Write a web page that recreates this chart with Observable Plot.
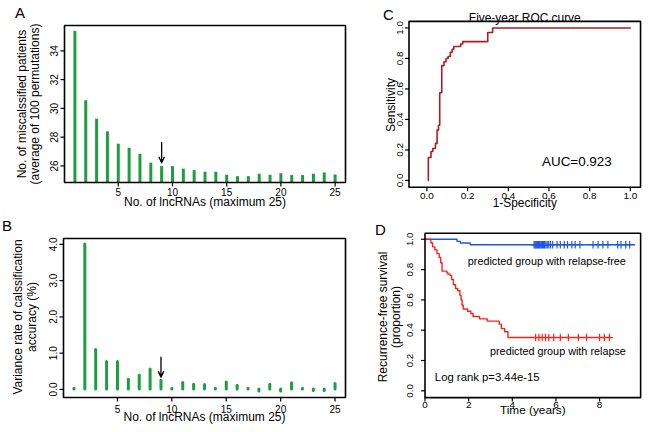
<!DOCTYPE html>
<html><head><meta charset="utf-8">
<script src="https://cdn.jsdelivr.net/npm/d3@7"></script>
<script src="https://cdn.jsdelivr.net/npm/@observablehq/plot@0.6"></script>
<style>
html,body{margin:0;background:#fff;overflow:hidden;font-family:"Liberation Sans",Arial,sans-serif;color:#000}
#fig{position:relative;width:648px;height:432px;background:#fff}
.box{position:absolute;}
.lab{position:absolute;font-size:15px;line-height:1;}
.ttl{position:absolute;font-size:12px;white-space:pre;text-align:center;transform:translate(-50%,-50%) rotate(-90deg);}
</style></head><body><div id="fig"></div>
<script>
// ---------- data ----------
const nLnc = [1,2,3,4,5,6,7,8,9,10,11,12,13,14,15,16,17,18,19,20,21,22,23,24,25];
const misclassified = [35.36,30.53,29.25,28.37,27.51,27.23,26.81,26.19,25.95,25.95,25.77,25.67,25.56,25.56,25.35,25.25,25.25,25.42,25.35,25.46,25.33,25.33,25.42,25.51,25.37];
const varianceRate = [0.02,4.0,1.09,0.76,0.76,0.27,0.38,0.55,0.24,0.02,0.18,0.13,0.12,0.02,0.19,0.10,0.02,-0.06,0.13,-0.06,0.17,0.02,-0.04,-0.04,0.15];
const nTicks = [5,10,15,20,25];
const aTicks = [26,28,30,32,34];
const bTicks = [0,1,2,3,4];
const arrowN = 9;
const arrowA = [27.62, 26.22];
const arrowB = [0.89, 0.34];

const rocFpr = [0.007,0.007,0.020,0.029,0.042,0.050,0.057,0.063,0.073,0.084,0.094,0.104,0.115,0.124,0.132,0.166,0.176,0.299,0.323,1.0];
const rocTpr = [0,0.15,0.19,0.21,0.243,0.33,0.362,0.575,0.753,0.778,0.80,0.813,0.84,0.86,0.878,0.895,0.91,0.97,1.0,1.0];
const unitTicks = [0,0.2,0.4,0.6,0.8,1.0];

const redTime = [0,0.27,0.35,0.45,0.55,0.65,0.72,0.78,1.0,1.05,1.15,1.22,1.3,1.4,1.5,1.6,1.65,1.7,1.75,1.95,2.1,2.2,2.5,2.85,3.4,3.5,3.65,3.8,8.5];
const redSurv = [1,0.975,0.95,0.93,0.905,0.88,0.845,0.79,0.78,0.77,0.76,0.735,0.70,0.675,0.66,0.63,0.60,0.565,0.54,0.525,0.51,0.49,0.475,0.46,0.44,0.41,0.39,0.352,0.352];
const blueTime = [0,1.47,1.62,2.07,9.6];
const blueSurv = [1,0.986,0.975,0.964,0.964];
const redCensor = [5.07,5.22,5.37,5.52,5.67,5.9,6.2,6.57,7.03,7.4,8.0,8.22,8.45];
const blueCensor = [5.0,5.04,5.08,5.12,5.16,5.2,5.24,5.28,5.33,5.38,5.43,5.48,5.54,5.6,5.67,5.75,5.85,6.05,6.2,6.38,6.53,6.73,6.88,7.1,7.7,7.93,8.15,8.38,8.83,8.98,9.2,9.38];
const timeTicks = [0,2,4,6,8];

// ---------- helpers ----------
const GREEN = "#1e9e40", ROC = "#a8201f", RED = "#f0261c", BLUE = "#2158d8";
const P = 7; // inner padding between Plot's frame and the drawn box
const rExt = a => { const lo = d3.min(a), hi = d3.max(a), e = (hi - lo) * 0.04; return [lo - e, hi + e]; };
const padDom = (d, px) => { const k = P * (d[1] - d[0]) / px; return [d[0] - k, d[1] + k]; };
const style = "font-family:'Liberation Sans',Arial,sans-serif;font-size:10px;background:transparent;color:black;";
const fig = document.getElementById("fig");
function place(el, left, top) {
  const w = document.createElement("div"); w.className = "box";
  w.style.left = left + "px"; w.style.top = top + "px"; w.appendChild(el); fig.appendChild(w); return w;
}
function title(text, cx, cy, lh) {
  const d = document.createElement("div"); d.className = "ttl"; d.textContent = text;
  d.style.lineHeight = lh + "px"; d.style.left = cx + "px"; d.style.top = cy + "px"; fig.appendChild(d);
}
function survAt(times, surv, t) { const i = d3.bisectRight(times, t) - 1; return surv[Math.max(0, i)]; }
// box through the visible-domain corners, plus outward tick marks (len px)
function boxLines(xd, yd, xt, yt, fw, fh, len) {
  const [x0, x1] = xd, [y0, y1] = yd;
  const corners = [[x0, y0], [x1, y0], [x1, y1], [x0, y1], [x0, y0]];
  const ky = len * (y1 - y0) / fh, kx = len * (x1 - x0) / fw;
  return [
    Plot.line(corners, {stroke: "black", strokeWidth: 1.6, strokeLinejoin: "miter"}),
    Plot.link(xt, {x1: d => d, x2: d => d, y1: y0, y2: y0 - ky, stroke: "black", strokeWidth: 1.2}),
    Plot.link(yt, {y1: d => d, y2: d => d, x1: x0, x2: x0 - kx, stroke: "black", strokeWidth: 1.2})
  ];
}

const tableA = nLnc.map((n, i) => ({n, v: misclassified[i]}));
const tableB = nLnc.map((n, i) => ({n, v: varianceRate[i]}));
const xDomN = rExt(nLnc);

// ---------- Panel A (box 281 x 157) ----------
const aDom = rExt(misclassified);
const plotA = Plot.plot({
  width: 353, height: 215, marginLeft: 64 - P, marginRight: 8 - P, marginTop: 25 - P, marginBottom: 33 - P,
  style, x: {domain: padDom(xDomN, 281)}, y: {domain: padDom(aDom, 157)},
  marks: [
    Plot.ruleX(tableA, {x: "n", y1: aDom[0], y2: "v", stroke: GREEN, strokeWidth: 3, strokeLinecap: "butt"}),
    Plot.arrow([0], {x1: () => arrowN, x2: () => arrowN, y1: () => arrowA[0], y2: () => arrowA[1], stroke: "black", strokeWidth: 1.3, headLength: 7, headAngle: 50}),
    ...boxLines(xDomN, aDom, nTicks, aTicks, 281, 157, 4),
    Plot.axisX({ticks: nTicks, tickSize: 0, tickPadding: 6.5 - P, label: null}),
    Plot.axisY({ticks: aTicks, tickSize: 0, tickPadding: 7 - P, tickRotate: -90, label: null}),
    Plot.text(["No. of lncRNAs (maximum 25)"], {frameAnchor: "bottom", dy: 23 - P, fontSize: 12})
  ]
});
place(plotA, 0, 0);

// ---------- Panel B (box 282 x 159) ----------
const bDom = rExt(varianceRate);
const plotB = Plot.plot({
  width: 353, height: 217, marginLeft: 63 - P, marginRight: 8 - P, marginTop: 23 - P, marginBottom: 35 - P,
  style, x: {domain: padDom(xDomN, 282)}, y: {domain: padDom(bDom, 159)},
  marks: [
    Plot.ruleX(tableB, {x: "n", y1: 0, y2: "v", stroke: GREEN, strokeWidth: 3, strokeLinecap: "round"}),
    Plot.arrow([0], {x1: () => arrowN, x2: () => arrowN, y1: () => arrowB[0], y2: () => arrowB[1], stroke: "black", strokeWidth: 1.3, headLength: 7, headAngle: 50}),
    ...boxLines(xDomN, bDom, nTicks, bTicks, 282, 159, 4),
    Plot.axisX({ticks: nTicks, tickSize: 0, tickPadding: 8 - P, label: null}),
    Plot.axisY({ticks: bTicks, tickSize: 0, tickPadding: 7 - P, tickRotate: -90, label: null}),
    Plot.text(["No. of lncRNAs (maximum 25)"], {frameAnchor: "bottom", dy: 23.5 - P, fontSize: 12})
  ]
});
place(plotB, 0, 215);

// ---------- Panel C (box 233 x 167) ----------
const cX = [-0.088, 1.05], cY = [-0.045, 1.043];
const tableC = rocFpr.map((f, i) => ({f, t: rocTpr[i]}));
const plotC = Plot.plot({
  width: 320, height: 215, marginLeft: 79 - P, marginRight: 8 - P, marginTop: 21 - P, marginBottom: 27 - P,
  style, x: {domain: padDom(cX, 233)}, y: {domain: padDom(cY, 167)},
  marks: [
    Plot.line(tableC, {x: "f", y: "t", curve: "step-after", stroke: ROC, strokeWidth: 1.6}),
    ...boxLines(cX, cY, unitTicks, unitTicks, 233, 167, 4),
    Plot.axisX({ticks: unitTicks, tickSize: 0, tickPadding: 5 - P, tickFormat: d3.format(".1f"), label: null}),
    Plot.axisY({ticks: unitTicks, tickSize: 0, tickPadding: 6 - P, tickRotate: -90, tickFormat: d3.format(".1f"), label: null}),
    Plot.text(["Five-year ROC curve"], {frameAnchor: "top", dy: -8 + P, fontSize: 12}),
    Plot.text(["1-Specificity"], {frameAnchor: "bottom", dy: 20 - P, fontSize: 12}),
    Plot.text(["AUC=0.923"], {frameAnchor: "bottom-right", dx: -29 - P, dy: -21 - P, textAnchor: "end", fontSize: 13.5})
  ]
});
place(plotC, 330, 0);

// ---------- Panel D (box 219 x 167) ----------
const dX = [0, 9.88], dY = [-0.045, 1.04];
const redTable = redTime.map((t, i) => ({t, s: redSurv[i]}));
const blueTable = blueTime.map((t, i) => ({t, s: blueSurv[i]}));
const redCens = redCensor.map(t => ({t, s: survAt(redTime, redSurv, t)}));
const blueCens = blueCensor.map(t => ({t, s: survAt(blueTime, blueSurv, t)}));
const plotD = Plot.plot({
  width: 323, height: 217, marginLeft: 96 - P, marginRight: 8 - P, marginTop: 18 - P, marginBottom: 32 - P,
  style, x: {domain: padDom(dX, 219)}, y: {domain: padDom(dY, 167)},
  marks: [
    Plot.line(blueTable, {x: "t", y: "s", curve: "step-after", stroke: BLUE, strokeWidth: 1.4}),
    Plot.line(redTable, {x: "t", y: "s", curve: "step-after", stroke: RED, strokeWidth: 1.4}),
    Plot.dot(blueCens, {x: "t", y: "s", symbol: "plus", r: 2.6, stroke: BLUE, strokeWidth: 1.2}),
    Plot.dot(redCens, {x: "t", y: "s", symbol: "plus", r: 2.6, stroke: RED, strokeWidth: 1.2}),
    ...boxLines(dX, dY, timeTicks, unitTicks, 219, 167, 4),
    Plot.axisX({ticks: timeTicks, tickSize: 0, tickPadding: 3 - P, label: null}),
    Plot.axisY({ticks: unitTicks, tickSize: 0, tickPadding: 12 - P, tickRotate: -90, tickFormat: d3.format(".1f"), label: null}),
    Plot.text(["Time (years)"], {frameAnchor: "bottom", dy: 17 - P, fontSize: 12}),
    Plot.text(["predicted group with relapse-free"], {frameAnchor: "top-right", dx: -15 - P, dy: 24 + P, textAnchor: "end", fontSize: 11}),
    Plot.text(["predicted group with relapse"], {frameAnchor: "top-right", dx: -15 - P, dy: 116 + P, textAnchor: "end", fontSize: 11}),
    Plot.text(["Log rank p=3.44e-15"], {frameAnchor: "bottom-left", dx: 10 + P, dy: -17 - P, textAnchor: "start", fontSize: 11.5})
  ]
});
place(plotD, 330, 215);

// ---------- rotated axis titles ----------
title("No. of miscalssified patients\n(average of 100 permutations)", 28.5, 103.5, 13.3);
title("Variance rate of calssification\naccuracy (%)", 26, 317, 13.8);
title("Sensitivity", 391, 104.5, 13);
title("Recurrence-free survival\n(proportion)", 389, 317, 12.5);

// ---------- panel letters ----------
[["A", 15, 5], ["B", 2, 218], ["C", 383, 7], ["D", 375, 222]].forEach(([t, x, y]) => {
  const d = document.createElement("div"); d.className = "lab"; d.textContent = t;
  d.style.left = x + "px"; d.style.top = y + "px"; fig.appendChild(d);
});
</script></body></html>
